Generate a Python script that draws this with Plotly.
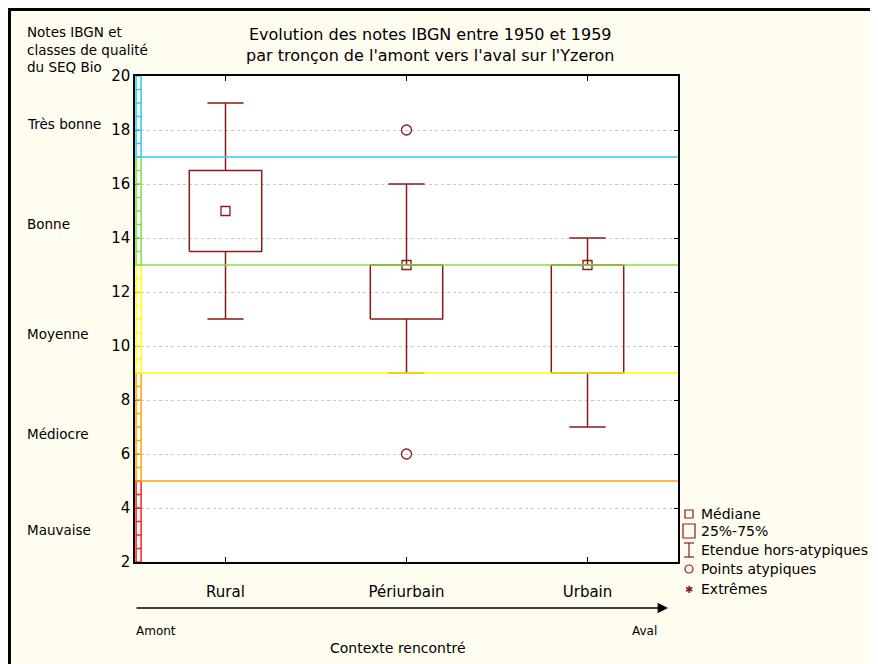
import plotly.graph_objects as go

# Données
categories = ["Rural", "Périurbain", "Urbain"]
medianes = [15, 13, 13]
q1 = [13.5, 11, 9]
q3 = [16.5, 13, 13]
mins = [11, 9, 7]
maxs = [19, 16, 14]
atypiques_x = ["Périurbain", "Périurbain"]
atypiques_y = [18, 6]

# Classes de qualité SEQ Bio (bornes)
classes = ["Mauvaise", "Médiocre", "Moyenne", "Bonne", "Très bonne"]
bornes = [2, 5, 9, 13, 17, 20]
couleurs = ["#FF2020", "#FFA500", "#FFFF00", "#80E040", "#30C8F8"]

y_ticks = [2, 4, 6, 8, 10, 12, 14, 16, 18, 20]

ROUGE = "#8B1A1A"
FONT = "DejaVu Sans, Arial, sans-serif"

fig = go.Figure()

pos = {c: i for i, c in enumerate(categories)}
hw_box, hw_cap = 0.2, 0.1

for i, c in enumerate(categories):
    # boîte 25%-75%
    fig.add_trace(go.Scatter(
        x=[i - hw_box, i + hw_box, i + hw_box, i - hw_box, i - hw_box],
        y=[q1[i], q1[i], q3[i], q3[i], q1[i]],
        mode="lines", line=dict(color=ROUGE, width=1.5), hoverinfo="skip",
    ))
    # moustaches
    for a, b in [(q3[i], maxs[i]), (q1[i], mins[i])]:
        fig.add_trace(go.Scatter(
            x=[i, i, None, i - hw_cap, i + hw_cap],
            y=[a, b, None, b, b],
            mode="lines", line=dict(color=ROUGE, width=1.5), hoverinfo="skip",
        ))

# médianes
fig.add_trace(go.Scatter(
    x=list(range(len(categories))), y=medianes, mode="markers",
    marker=dict(symbol="square-open", size=9, color=ROUGE, line=dict(width=1.3)),
))
# points atypiques
fig.add_trace(go.Scatter(
    x=[pos[c] for c in atypiques_x], y=atypiques_y, mode="markers",
    marker=dict(symbol="circle-open", size=10, color=ROUGE, line=dict(width=1.3)),
))

shapes = []
# lignes de classe
for k in range(1, len(bornes) - 1):
    shapes.append(dict(type="line", xref="paper", yref="y", x0=0, x1=1,
                       y0=bornes[k], y1=bornes[k],
                       line=dict(color=couleurs[k], width=1.6), layer="above"))
# barre de couleur à gauche
bw = 5 / 543
for k in range(len(classes)):
    shapes.append(dict(type="rect", xref="paper", yref="y", x0=0.002, x1=0.002 + bw,
                       y0=bornes[k], y1=bornes[k + 1],
                       line=dict(color=couleurs[k], width=1.5), fillcolor="rgba(0,0,0,0)"))
    v = bornes[k] + 0.5
    while v < bornes[k + 1]:
        shapes.append(dict(type="line", xref="paper", yref="y", x0=0.002, x1=0.002 + bw,
                           y0=v, y1=v, line=dict(color=couleurs[k], width=1.5)))
        v += 0.5


# positions en pixels de la page -> coordonnées papier
def px(x):
    return (x - 135) / 543


def py(y):
    return (562 - y) / 486


# cadre extérieur
shapes.append(dict(type="rect", xref="paper", yref="paper",
                   x0=px(9.5), x1=px(900), y0=py(690), y1=py(9.5),
                   line=dict(color="black", width=3), layer="below"))

# légende dessinée
lx = px(689)
s = 1 / 543
shapes += [
    dict(type="rect", xref="paper", yref="paper", x0=lx - 4 * s, x1=lx + 4 * s,
         y0=py(518), y1=py(510), line=dict(color=ROUGE, width=1.2)),
    dict(type="rect", xref="paper", yref="paper", x0=lx - 6 * s, x1=lx + 6 * s,
         y0=py(538), y1=py(524), line=dict(color=ROUGE, width=1.2)),
    dict(type="line", xref="paper", yref="paper", x0=lx, x1=lx,
         y0=py(557), y1=py(543), line=dict(color=ROUGE, width=1.2)),
    dict(type="line", xref="paper", yref="paper", x0=lx - 5 * s, x1=lx + 5 * s,
         y0=py(543), y1=py(543), line=dict(color=ROUGE, width=1.2)),
    dict(type="line", xref="paper", yref="paper", x0=lx - 5 * s, x1=lx + 5 * s,
         y0=py(557), y1=py(557), line=dict(color=ROUGE, width=1.2)),
    dict(type="circle", xref="paper", yref="paper", x0=lx - 4 * s, x1=lx + 4 * s,
         y0=py(573), y1=py(565), line=dict(color=ROUGE, width=1.2)),
]

annotations = [
    dict(text="Evolution des notes IBGN entre 1950 et 1959<br>par tronçon de l'amont vers l'aval sur l'Yzeron",
         xref="paper", yref="paper", x=px(430), y=py(45), xanchor="center", yanchor="middle",
         showarrow=False, font=dict(size=16, color="black"), align="center"),
    dict(text="Notes IBGN et<br>classes de qualité<br>du SEQ Bio",
         xref="paper", yref="paper", x=px(25), y=py(22), xanchor="left", yanchor="top",
         showarrow=False, font=dict(size=13.5, color="black"), align="left"),
    dict(text="", xref="paper", yref="paper", x=px(668), y=py(608), ax=-533, ay=0,
         axref="pixel", ayref="pixel", showarrow=True, arrowhead=2, arrowsize=1.6,
         arrowwidth=1.3, arrowcolor="black"),
    dict(text="Amont", xref="paper", yref="paper", x=px(134), y=py(631), xanchor="left",
         yanchor="middle", showarrow=False, font=dict(size=12)),
    dict(text="Aval", xref="paper", yref="paper", x=px(659), y=py(631), xanchor="right",
         yanchor="middle", showarrow=False, font=dict(size=12)),
    dict(text="Contexte rencontré", xref="paper", yref="paper", x=px(398), y=py(648),
         xanchor="center", yanchor="middle", showarrow=False, font=dict(size=14)),
]

label_y = [530, 434, 334, 224, 124]
for nom, yy in zip(classes, label_y):
    annotations.append(dict(text=nom, xref="paper", yref="paper", x=px(25), y=py(yy),
                            xanchor="left", yanchor="middle", showarrow=False,
                            font=dict(size=13.5)))

legende = ["Médiane", "25%-75%", "Etendue hors-atypiques", "Points atypiques", "Extrêmes"]
legende_y = [514, 531, 550, 569, 589]
for t, yy in zip(legende, legende_y):
    annotations.append(dict(text=t, xref="paper", yref="paper", x=px(699), y=py(yy),
                            xanchor="left", yanchor="middle", showarrow=False,
                            font=dict(size=14)))
annotations.append(dict(text="✱", xref="paper", yref="paper", x=lx, y=py(589),
                        xanchor="center", yanchor="middle", showarrow=False,
                        font=dict(size=10, color=ROUGE)))

# la page ajoute 8 px de marge : figure réduite d'autant
fig.update_layout(
    width=870, height=656,
    margin=dict(l=127, r=200, t=68, b=102),
    paper_bgcolor="#FFFCF0", plot_bgcolor="white",
    font=dict(family=FONT, size=13, color="black"),
    showlegend=False,
    shapes=shapes, annotations=annotations,
    xaxis=dict(range=[-0.5, 2.5], tickvals=list(range(len(categories))), ticktext=categories,
               ticks="inside", ticklen=5, tickcolor="black", showgrid=False, zeroline=False,
               showline=True, linecolor="black", linewidth=1.5, mirror="ticks",
               ticklabelstandoff=15, tickfont=dict(size=15)),
    yaxis=dict(range=[2, 20], tickvals=y_ticks, ticks="inside", ticklen=4, tickcolor="black",
               showgrid=True, gridcolor="#C8C8C8", griddash="dot", gridwidth=1,
               zeroline=False, showline=True, linecolor="black", linewidth=1.5,
               mirror="ticks", tickfont=dict(size=15)),
)

fig.write_html("out.html")
